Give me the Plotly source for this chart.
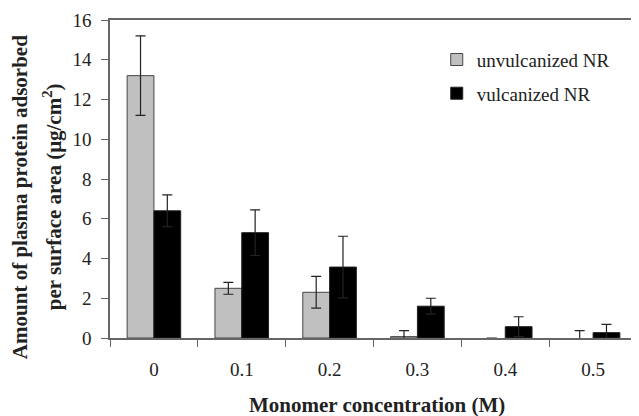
import plotly.graph_objects as go

categories = ["0", "0.1", "0.2", "0.3", "0.4", "0.5"]
unvulcanized = [13.2, 2.5, 2.3, 0.07, 0.0, 0.0]
unvulcanized_err = [2.0, 0.3, 0.8, 0.3, 0.0, 0.37]
vulcanized = [6.4, 5.3, 3.57, 1.6, 0.57, 0.27]
vulcanized_err = [0.8, 1.15, 1.55, 0.4, 0.5, 0.42]

font_family = "Liberation Serif, Times New Roman, DejaVu Serif, serif"
txt = "#222222"

unv_line_w = [1 if v > 0 else 0 for v in unvulcanized]

fig = go.Figure()
fig.add_trace(go.Bar(
    x=categories, y=unvulcanized, name="unvulcanized NR",
    marker=dict(color="#c0c0c0", line=dict(color="#444444", width=unv_line_w)),
    error_y=dict(type="data", array=unvulcanized_err, visible=True,
                 color="#222222", thickness=1.2, width=5),
    legendgroup="a",
))
fig.add_trace(go.Bar(
    x=categories, y=vulcanized, name="vulcanized NR",
    marker=dict(color="#000000", line=dict(color="#222222", width=1)),
    error_y=dict(type="data", array=vulcanized_err, visible=True,
                 color="#222222", thickness=1.2, width=5),
    legendgroup="b",
))

fig.update_layout(
    width=631, height=408,
    margin=dict(l=102, r=2, t=12, b=78),
    paper_bgcolor="white", plot_bgcolor="white",
    barmode="group", bargap=0.39, bargroupgap=0,
    font=dict(family=font_family, size=19, color=txt),
    showlegend=True,
    legend=dict(x=0.62, y=0.935, xanchor="left", yanchor="top",
                bgcolor="rgba(0,0,0,0)", tracegroupgap=6,
                font=dict(family=font_family, size=19, color=txt),
                itemwidth=30),
    xaxis=dict(
        type="category", automargin=False,
        showline=True, linecolor="#666666", linewidth=1.5, mirror=True,
        ticks="outside", tickson="boundaries", ticklen=7, tickcolor="#666666",
        showgrid=False, ticklabelstandoff=13,
        tickfont=dict(family=font_family, size=19, color=txt),
    ),
    yaxis=dict(
        range=[0, 16], dtick=2, automargin=False,
        showline=True, linecolor="#666666", linewidth=1.5,
        ticks="outside", ticklen=7, tickcolor="#666666",
        showgrid=False, zeroline=False, ticklabelstandoff=6,
        tickfont=dict(family=font_family, size=19, color=txt),
    ),
    annotations=[
        dict(text="<b>Monomer concentration (M)</b>", xref="paper", yref="paper",
             x=0.5, y=0, xanchor="center", yanchor="middle", xshift=3, yshift=-67,
             showarrow=False, font=dict(family=font_family, size=21, color=txt)),
        dict(text="<b>Amount of plasma protein adsorbed</b>", xref="paper", yref="paper",
             x=0, y=0.443, xanchor="center", yanchor="middle", xshift=-90,
             textangle=-90, showarrow=False,
             font=dict(family=font_family, size=21, color=txt)),
        dict(text="<b>per surface area (μg/cm<sup>2</sup>)</b>", xref="paper", yref="paper",
             x=0, y=0.443, xanchor="center", yanchor="middle", xshift=-58,
             textangle=-90, showarrow=False,
             font=dict(family=font_family, size=21, color=txt)),
    ],
)

fig.write_html("out.html")
